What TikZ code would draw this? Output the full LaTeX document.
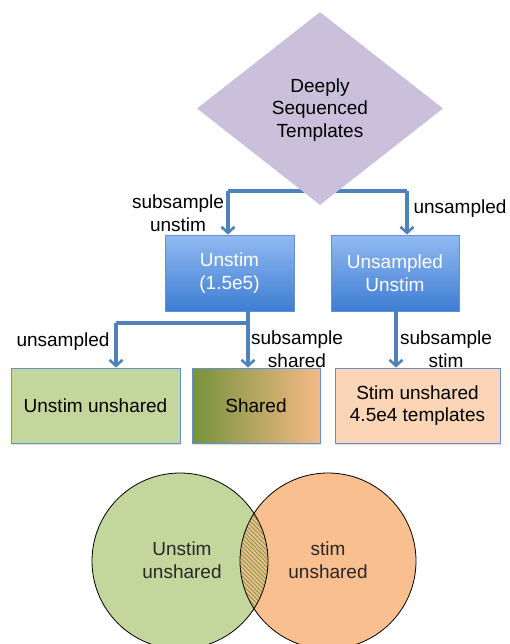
\documentclass[tikz,border=0pt]{standalone}
\usepackage{fontspec}
\setmainfont{Liberation Sans}
\usetikzlibrary{shapes.geometric,arrows.meta,shadows}
\definecolor{dia}{RGB}{203,192,220}
\definecolor{arr}{RGB}{79,129,189}
\definecolor{btop}{RGB}{145,186,242}
\definecolor{bbot}{RGB}{62,125,210}
\definecolor{bdr}{RGB}{100,145,210}
\definecolor{grn}{RGB}{195,214,155}
\definecolor{olive}{RGB}{118,146,60}
\definecolor{hatch}{RGB}{140,160,80}
\definecolor{peach}{RGB}{251,213,181}
\definecolor{orng}{RGB}{249,191,143}
\definecolor{sharedR}{RGB}{244,186,134}
\definecolor{txt}{RGB}{40,40,40}
\begin{document}
\begin{tikzpicture}[x=1pt,y=-1pt,
  font=\fontsize{19}{22.5}\selectfont,
  conn/.style={draw=arr,line width=3.2pt,-{Straight Barb[length=6pt,width=13pt,line width=2.6pt]}},
  line/.style={draw=arr,line width=3.2pt},
  bluebox/.style={draw=bdr,line width=0.8pt,top color=btop,bottom color=bbot,text=white,align=center,inner sep=0pt},
  resbox/.style={draw=bdr,line width=0.8pt,align=center,inner sep=0pt,text=black,drop shadow={opacity=0.25,shadow xshift=1pt,shadow yshift=-2pt}},
  lab/.style={align=center,inner sep=0pt,text=black}]
\useasboundingbox (0,0) rectangle (509,644);
% junction line behind diamond
\coordinate (j1) at (320,191);
\coordinate (aL) at (228,235);
\coordinate (aR) at (407,235);
\draw[line] (228,191) -- (407,191);
% boxes
\node[bluebox,minimum width=129pt,minimum height=76pt] (un) at (229.5,273) {Unstim\\(1.5e5)};
\node[bluebox,minimum width=128pt,minimum height=76pt] (us) at (395,273) {Unsampled\\Unstim};
\draw[conn] (228,191) -- (un.north -| aL);
\draw[conn] (407,191) -- (us.north -| aR);
% diamond
\node[diamond,fill=dia,minimum width=246pt,minimum height=193pt,inner sep=0pt,align=center,text=black] (d) at (320,108.5) {};
\node[lab] (dt) at (320,110) {Deeply\\Sequenced\\Templates};
% bottom boxes
\node[resbox,fill=grn,minimum width=169pt,minimum height=75pt] (uu) at (95.5,405.5) {Unstim unshared};
\node[resbox,left color=olive,right color=sharedR,minimum width=128pt,minimum height=75pt] (sh) at (256,405.5) {Shared};
\node[resbox,fill=peach,minimum width=165pt,minimum height=75pt] (su) at (417.5,405.5) {Stim unshared\\4.5e4 templates};
% connectors lower
\coordinate (b1) at (248,311);
\coordinate (j2) at (248,323);
\coordinate (b2) at (116,323);
\draw[line] (b1 |- un.south) -- (j2) -- (b2);
\draw[conn] (b2) -- (b2 |- uu.north);
\draw[conn] (j2) -- (j2 |- sh.north);
\coordinate (b3) at (396,311);
\draw[conn] (b3 |- us.south) -- (b3 |- su.north);
% labels
\node[lab] (l1) at (178,213) {subsample\\unstim};
\node[lab] (l2) at (460,209) {unsampled};
\node[lab] (l3) at (63,342) {unsampled};
\node[lab] (l4) at (297,349) {subsample\\shared};
\node[lab] (l5) at (446,349) {subsample\\stim};
% venn
\coordinate (cL) at (180,561);
\coordinate (cR) at (328,561);
\fill[grn] (cL) circle (88);
\fill[orng] (cR) circle (88);
\begin{scope}
\clip (cL) circle (88);
\fill[orng] (cR) circle (88);
\clip (cR) circle (88);
\foreach \k in {0,...,60} {
  \draw[hatch,line width=1.1pt] (200+\k*4.2,660) -- (200+\k*4.2-150,510);
}
\end{scope}
\draw[black,line width=0.8pt] (cL) circle (88);
\draw[black,line width=0.8pt] (cR) circle (88);
\node[lab,text=txt] (vl) at (182,560) {Unstim\\unshared};
\node[lab,text=txt] (vr) at (328,560) {stim\\unshared};
\end{tikzpicture}
\end{document}
